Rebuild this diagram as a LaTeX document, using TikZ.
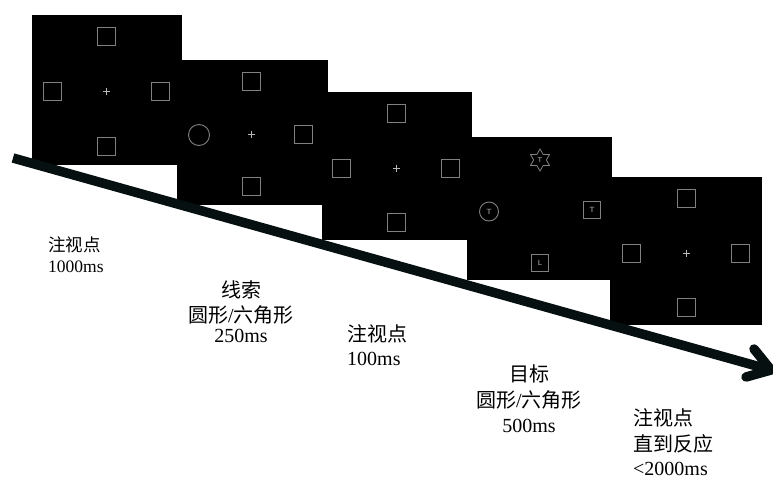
\documentclass[tikz,border=0pt]{standalone}
\usepackage{fontspec}
\setmainfont{Liberation Serif}
\newfontfamily\cjk{Noto Sans CJK SC}
\usetikzlibrary{shapes.geometric,calc}
\definecolor{stim}{RGB}{128,128,128}
\definecolor{fixc}{RGB}{185,185,185}
\definecolor{arrowc}{RGB}{6,16,16}
\begin{document}
\begin{tikzpicture}[x=1pt,y=-1pt,
  panel/.style={fill=black, draw=none},
  sq/.style={draw=stim, line width=0.9pt, rectangle, minimum size=18pt, inner sep=0pt},
  tsq/.style={sq, minimum size=16.5pt, text=fixc, font=\sffamily\fontsize{7.5}{7.5}\selectfont},
  cue/.style={draw=stim, line width=0.9pt, circle, inner sep=0pt},
  cuet/.style={cue, text=fixc, font=\sffamily\fontsize{7.5}{7.5}\selectfont},
  hexstar/.style={star, star points=6, star point ratio=1.73, draw=stim, line width=0.8pt,
    inner sep=0pt, minimum size=22pt, text=fixc, font=\sffamily\fontsize{7}{7}\selectfont},
  lab/.style={inner sep=0pt, font=\fontsize{20}{24}\selectfont},
  labs/.style={inner sep=0pt, font=\fontsize{17.5}{21}\selectfont},
  timeline/.style={draw=arrowc, line width=9.5pt},
  fixcross/.pic={\draw[fixc, line width=0.6pt] (-3.5,0) -- (3.5,0) (0,-3.5) -- (0,3.5);}
]
\useasboundingbox (0,0) rectangle (773,479);

% panels
\fill[panel] (32,15) rectangle (182,165);
\fill[panel] (177,60) rectangle (328,205);
\fill[panel] (322,92) rectangle (472,240);
\fill[panel] (467,137) rectangle (612,280);
\fill[panel] (610,177) rectangle (762,325);

% panel 1: fixation
\node[sq] (p1t) at (106,36) {};
\node[sq] (p1l) at (52,91) {};
\node[sq] (p1r) at (160,91) {};
\node[sq] (p1b) at (106,146) {};
\pic at (106,91) {fixcross};

% panel 2: cue
\node[sq] (p2t) at (251,81) {};
\node[cue, minimum size=21pt] (p2l) at (199,135) {};
\node[sq] (p2r) at (303,134) {};
\node[sq] (p2b) at (251,186) {};
\pic at (251,134) {fixcross};

% panel 3: fixation
\node[sq] (p3t) at (396,113) {};
\node[sq] (p3l) at (341,168) {};
\node[sq] (p3r) at (450,168) {};
\node[sq] (p3b) at (396,222) {};
\pic at (396,168) {fixcross};

% panel 4: target
\node[hexstar] (p4t) at (540,160) {T};
\node[cuet, minimum size=19pt] (p4l) at (489,211.5) {T};
\node[tsq] (p4r) at (592,210) {T};
\node[tsq] (p4b) at (540,263) {L};

% panel 5: fixation until response
\node[sq] (p5t) at (686,198) {};
\node[sq] (p5l) at (631,253) {};
\node[sq] (p5r) at (740,253) {};
\node[sq] (p5b) at (686,307) {};
\pic at (686,253) {fixcross};

% time arrow
\coordinate (as) at (13,158);
\coordinate (ae) at (771,370);
\coordinate (au) at (754,349);
\coordinate (ad) at (746,377);
\draw[timeline] (as) -- (ae);
\draw[timeline, line cap=round, line join=round] (au) -- (ae) -- (ad);

% labels
\node[labs, anchor=base west] (t1a) at (48,251) {\cjk 注视点};
\node[labs, anchor=base west] (t1b) at (48,272) {1000ms};

\node[lab, anchor=base] (t2a) at (241,297) {\cjk 线索};
\node[lab, anchor=base] (t2b) at (241,322) {{\cjk 圆形}/{\cjk 六角形}};
\node[lab, anchor=base] (t2c) at (241,342) {250ms};

\node[lab, anchor=base west] (t3a) at (347,341) {\cjk 注视点};
\node[lab, anchor=base west] (t3b) at (347,365) {100ms};

\node[lab, anchor=base] (t4a) at (529,381) {\cjk 目标};
\node[lab, anchor=base] (t4b) at (529,407) {{\cjk 圆形}/{\cjk 六角形}};
\node[lab, anchor=base] (t4c) at (529,432) {500ms};

\node[lab, anchor=base west] (t5a) at (633,425) {\cjk 注视点};
\node[lab, anchor=base west] (t5b) at (633,451) {\cjk 直到反应};
\node[lab, anchor=base west] (t5c) at (633,475) {<2000ms};
\end{tikzpicture}
\end{document}
